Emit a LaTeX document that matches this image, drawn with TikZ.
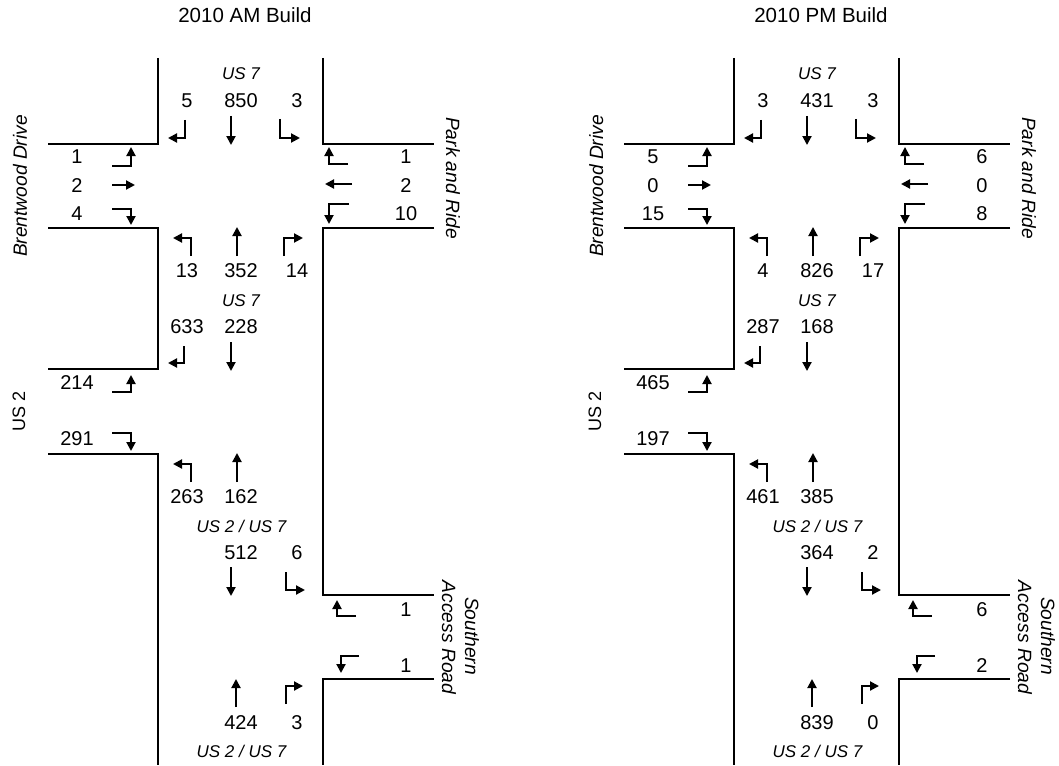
\documentclass[tikz,border=0pt]{standalone}
\usepackage{fontspec}
\setmainfont{Liberation Sans}
\usetikzlibrary{arrows.meta}
\tikzset{
  road/.style={line width=2.2pt, line join=miter},
  mv/.style={line width=2pt, line join=miter, -{Triangle[length=9pt,width=9pt]}},
  num/.style={anchor=base, inner sep=0pt, font=\fontsize{20}{24}\selectfont},
  lbl/.style={anchor=base, inner sep=0pt, font=\fontsize{17}{20}\selectfont\itshape},
  rname/.style={anchor=base, inner sep=0pt, font=\fontsize{19.2}{22}\selectfont\itshape},
  rnameup/.style={anchor=base, inner sep=0pt, font=\fontsize{18}{21}\selectfont},
  ttl/.style={anchor=base, inner sep=0pt, font=\fontsize{20.5}{24}\selectfont},
}
\newcommand\panelgeom{%
  % road edges
  \draw[road] (158,58) -- (158,144) -- (48,144);
  \draw[road] (323,58) -- (323,144) -- (434,144);
  \draw[road] (48,228) -- (158,228) -- (158,369) -- (48,369);
  \draw[road] (434,228) -- (323,228) -- (323,595) -- (434,595);
  \draw[road] (48,454) -- (158,454) -- (158,765);
  \draw[road] (434,679) -- (323,679) -- (323,765);
  % southbound, top approach
  \draw[mv] (185,120) -- (185,138) -- (168,138);
  \draw[mv] (231,116) -- (231,145);
  \draw[mv] (280,119) -- (280,138) -- (300,138);
  % eastbound Brentwood
  \draw[mv] (112,166) -- (131,166) -- (131,147);
  \draw[mv] (112,185) -- (135,185);
  \draw[mv] (112,209) -- (131,209) -- (131,225);
  % westbound Park and Ride
  \draw[mv] (348,164) -- (329,164) -- (329,147);
  \draw[mv] (352,184) -- (325,184);
  \draw[mv] (349,204) -- (329,204) -- (329,224);
  % northbound at Brentwood
  \draw[mv] (191,256) -- (191,238) -- (173,238);
  \draw[mv] (237,256) -- (237,227);
  \draw[mv] (284,256) -- (284,238) -- (303,238);
  % southbound at US 2
  \draw[mv] (184,346) -- (184,363) -- (168,363);
  \draw[mv] (231,342) -- (231,371);
  % eastbound US 2
  \draw[mv] (112,392) -- (131,392) -- (131,375);
  \draw[mv] (112,433) -- (131,433) -- (131,451);
  % northbound at US 2
  \draw[mv] (191,482) -- (191,464) -- (173,464);
  \draw[mv] (237,482) -- (237,453);
  % southbound at Southern Access Road
  \draw[mv] (231,567) -- (231,596);
  \draw[mv] (286,572) -- (286,590) -- (305,590);
  % westbound Southern Access Road
  \draw[mv] (356,616) -- (337,616) -- (337,600);
  \draw[mv] (359,656) -- (341,656) -- (341,673);
  % northbound at Southern Access Road
  \draw[mv] (236,707) -- (236,679);
  \draw[mv] (286,704) -- (286,686) -- (303,686);
  % road labels
  \node[lbl] (us7a) at (241,80) {US 7};
  \node[lbl] (us7b) at (241,306) {US 7};
  \node[lbl] (us27a) at (241.5,532) {US 2 / US 7};
  \node[lbl] (us27b) at (241.5,757) {US 2 / US 7};
  \node[rname, rotate=90] (brent) at (27,186) {Brentwood Drive};
  \node[rnameup, rotate=90] (us2) at (25,411) {US 2};
  \node[rname, rotate=-90] (park) at (446,178) {Park and Ride};
  \node[rname, rotate=-90] (south1) at (465,636) {Southern};
  \node[rname, rotate=-90] (south2) at (442,637.5) {Access Road};
}
\newcommand\valsA[9]{%
  \node[num] (tl) at (187,108) {#1};
  \node[num] (tt) at (241,108) {#2};
  \node[num] (tr) at (297,108) {#3};
  \node[num] (e1) at (77,163.5) {#4};
  \node[num] (e2) at (77,192.5) {#5};
  \node[num] (e3) at (77,220.5) {#6};
  \node[num] (w1) at (406,163.5) {#7};
  \node[num] (w2) at (406,192.5) {#8};
  \node[num] (w3) at (406,220.5) {#9};
}
\newcommand\valsB[9]{%
  \node[num] (nl) at (187,277) {#1};
  \node[num] (nt) at (241,277) {#2};
  \node[num] (nr) at (297,277) {#3};
  \node[num] (sl) at (187,333) {#4};
  \node[num] (st) at (241,333) {#5};
  \node[num] (u1) at (77,389) {#6};
  \node[num] (u2) at (77,445) {#7};
  \node[num] (ml) at (187,503) {#8};
  \node[num] (mt) at (241,503) {#9};
}
\newcommand\valsC[6]{%
  \node[num] (bt) at (241,559) {#1};
  \node[num] (br) at (297,559) {#2};
  \node[num] (a1) at (406,616) {#3};
  \node[num] (a2) at (406,672) {#4};
  \node[num] (lt) at (241,729) {#5};
  \node[num] (lr) at (297,729) {#6};
}
\begin{document}
\begin{tikzpicture}[x=1pt,y=-1pt]
\useasboundingbox (0,0) rectangle (1059,765);
\begin{scope}[name prefix=L-]
  \panelgeom
  \node[ttl] (title) at (245,23) {2010 AM Build};
  \valsA{5}{850}{3}{1}{2}{4}{1}{2}{10}
  \valsB{13}{352}{14}{633}{228}{214}{291}{263}{162}
  \valsC{512}{6}{1}{1}{424}{3}
\end{scope}
\begin{scope}[xshift=576pt, name prefix=R-]
  \panelgeom
  \node[ttl] (title) at (245,23) {2010 PM Build};
  \valsA{3}{431}{3}{5}{0}{15}{6}{0}{8}
  \valsB{4}{826}{17}{287}{168}{465}{197}{461}{385}
  \valsC{364}{2}{6}{2}{839}{0}
\end{scope}
\end{tikzpicture}
\end{document}
